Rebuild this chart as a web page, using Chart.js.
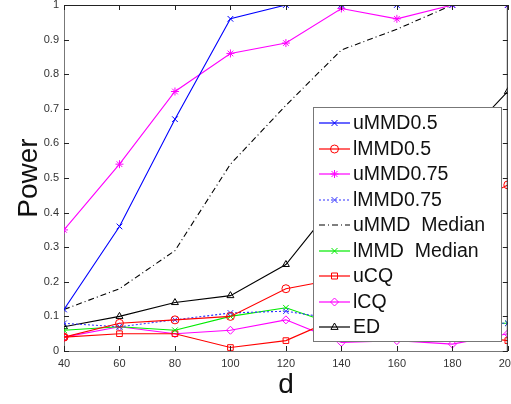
<!DOCTYPE html>
<html>
<head>
<meta charset="utf-8">
<script src="https://cdn.jsdelivr.net/npm/chart.js@4"></script>
<style>
  html, body { margin: 0; padding: 0; background: #fff; overflow: hidden; }
  #wrap { width: 511px; height: 404px; overflow: hidden; }
</style>
</head>
<body>
<div id="wrap"><canvas id="chart" width="523" height="404"></canvas></div>
<script>
// x values (d) and power per method
const dValues = [40, 60, 80, 100, 120, 140, 160, 180, 200];
const uMMD05 = [0.12, 0.36, 0.67, 0.96, 1, 1, 1, 1, 1];
const lMMD05 = [0.04, 0.08, 0.09, 0.10, 0.18, 0.21, 0.28, 0.40, 0.48];
const uMMD075 = [0.35, 0.54, 0.75, 0.86, 0.89, 0.99, 0.96, 1, 1];
const lMMD075 = [0.08, 0.07, 0.09, 0.11, 0.115, 0.09, 0.08, 0.08, 0.08];
const uMMDMedian = [0.12, 0.18, 0.29, 0.54, 0.71, 0.87, 0.93, 1, 1];
const lMMDMedian = [0.06, 0.07, 0.06, 0.10, 0.125, 0.07, 0.08, 0.08, 0.08];
const uCQ = [0.04, 0.05, 0.05, 0.01, 0.03, 0.10, 0.07, 0.05, 0.03];
const lCQ = [0.04, 0.07, 0.05, 0.06, 0.09, 0.025, 0.03, 0.02, 0.05];
const ED = [0.07, 0.10, 0.14, 0.16, 0.25, 0.45, 0.52, 0.58, 0.75];

const yTickLabels = ['0', '0.1', '0.2', '0.3', '0.4', '0.5', '0.6', '0.7', '0.8', '0.9', '1'];
const xTickLabels = ['40', '60', '80', '100', '120', '140', '160', '180', '200'];

const FONT = '"Liberation Sans", Arial, sans-serif';
const pts = arr => arr.map((v, i) => ({ x: dValues[i], y: v }));

// legend rows, drawn by the plugin below
const legendRows = [];

function series(label, values, color, style, dash) {
  legendRows.push({ label: label, color: color, style: style, dash: dash || [] });
  return {
    label: label,
    data: pts(values),
    borderColor: color,
    borderWidth: 1.1,
    borderDash: dash || [],
    pointStyle: style,
    pointRadius: style ? 4 : 0,
    pointBorderColor: color,
    pointBackgroundColor: 'rgba(0,0,0,0)',
    pointBorderWidth: 1,
    tension: 0,
    fill: false
  };
}

const datasets = [
  series('uMMD0.5', uMMD05, 'rgb(0,0,255)', 'crossRot'),
  series('lMMD0.5', lMMD05, 'rgb(255,0,0)', 'circle'),
  series('uMMD0.75', uMMD075, 'rgb(255,0,255)', 'star'),
  series('lMMD0.75', lMMD075, 'rgb(51,51,255)', 'crossRot', [2, 2]),
  series('uMMD  Median', uMMDMedian, 'rgb(0,0,0)', false, [6, 3, 1, 3]),
  series('lMMD  Median', lMMDMedian, 'rgb(0,235,0)', 'crossRot'),
  series('uCQ', uCQ, 'rgb(255,0,0)', 'rect'),
  series('lCQ', lCQ, 'rgb(255,0,255)', 'rectRot'),
  series('ED', ED, 'rgb(0,0,0)', 'triangle')
];

function marker(ctx, style, x, y, r) {
  ctx.beginPath();
  if (style === 'crossRot') {
    const d = r * 0.75;
    ctx.moveTo(x - d, y - d); ctx.lineTo(x + d, y + d);
    ctx.moveTo(x - d, y + d); ctx.lineTo(x + d, y - d);
  } else if (style === 'star') {
    const d = r * 0.75;
    ctx.moveTo(x - d, y - d); ctx.lineTo(x + d, y + d);
    ctx.moveTo(x - d, y + d); ctx.lineTo(x + d, y - d);
    ctx.moveTo(x - r, y); ctx.lineTo(x + r, y);
    ctx.moveTo(x, y - r); ctx.lineTo(x, y + r);
  } else if (style === 'circle') {
    ctx.arc(x, y, r, 0, Math.PI * 2);
  } else if (style === 'rect') {
    const d = r * 0.75;
    ctx.rect(x - d, y - d, 2 * d, 2 * d);
  } else if (style === 'rectRot') {
    ctx.moveTo(x, y - r); ctx.lineTo(x + r, y); ctx.lineTo(x, y + r); ctx.lineTo(x - r, y); ctx.closePath();
  } else if (style === 'triangle') {
    ctx.moveTo(x, y - r); ctx.lineTo(x + r * 0.9, y + r * 0.6); ctx.lineTo(x - r * 0.9, y + r * 0.6); ctx.closePath();
  }
  ctx.stroke();
}

// inward tick marks, top/right box lines and the legend box
const frame = {
  id: 'frame',
  afterDraw(chart) {
    const ctx = chart.ctx;
    const a = chart.chartArea;
    const xs = chart.scales.x, ys = chart.scales.y;
    ctx.save();
    ctx.strokeStyle = '#222';
    ctx.lineWidth = 1;
    ctx.beginPath();
    ctx.moveTo(a.left, a.top + 0.5);
    ctx.lineTo(a.right, a.top + 0.5);
    ctx.moveTo(a.right - 0.5, a.top);
    ctx.lineTo(a.right - 0.5, a.bottom);
    xs.ticks.forEach(t => {
      const px = Math.round(xs.getPixelForValue(t.value)) + 0.5;
      ctx.moveTo(px, a.bottom); ctx.lineTo(px, a.bottom - 5);
      ctx.moveTo(px, a.top); ctx.lineTo(px, a.top + 5);
    });
    ys.ticks.forEach(t => {
      const py = Math.round(ys.getPixelForValue(t.value)) + 0.5;
      ctx.moveTo(a.left, py); ctx.lineTo(a.left + 5, py);
      ctx.moveTo(a.right, py); ctx.lineTo(a.right - 5, py);
    });
    ctx.stroke();

    // legend
    const bx = 313.5, by = 107.5, bw = 188, bh = 234;
    ctx.fillStyle = '#fff';
    ctx.fillRect(bx, by, bw, bh);
    ctx.strokeStyle = '#777';
    ctx.strokeRect(bx, by, bw, bh);
    ctx.font = '19.5px ' + FONT;
    ctx.textBaseline = 'middle';
    legendRows.forEach((row, i) => {
      const y = Math.round(123 + i * 25.5);
      ctx.strokeStyle = row.color;
      ctx.lineWidth = 1.2;
      ctx.setLineDash(row.dash);
      ctx.beginPath();
      ctx.moveTo(319, y);
      ctx.lineTo(350, y);
      ctx.stroke();
      ctx.setLineDash([]);
      ctx.lineWidth = 1;
      if (row.style) marker(ctx, row.style, 334.5, y, 4);
      ctx.fillStyle = '#111';
      ctx.fillText(row.label, 353, y + 1);
    });
    ctx.restore();
  }
};

new Chart(document.getElementById('chart'), {
  type: 'line',
  data: { datasets: datasets },
  options: {
    responsive: false,
    animation: false,
    layout: { padding: { top: 4, right: 12, left: 0, bottom: 0 } },
    plugins: { legend: { display: false }, tooltip: { enabled: false } },
    scales: {
      x: {
        type: 'linear',
        min: 40, max: 200,
        afterBuildTicks: s => { s.ticks = dValues.map(v => ({ value: v })); },
        afterFit: s => { s.height = 53; },
        grid: { display: false, drawTicks: false },
        border: { color: '#777', width: 1 },
        ticks: {
          padding: 6,
          color: '#333',
          font: { family: FONT, size: 11 },
          callback: (v, i) => xTickLabels[i]
        },
        title: {
          display: true, text: 'd', color: '#111', padding: { top: 0, bottom: 2 },
          font: { family: FONT, size: 28 }
        }
      },
      y: {
        min: 0, max: 1,
        afterBuildTicks: s => { s.ticks = yTickLabels.map((t, i) => ({ value: i / 10 })); },
        afterFit: s => { s.width = 64; s.paddingTop = 0; s.paddingBottom = 0; },
        grid: { display: false, drawTicks: false },
        border: { color: '#777', width: 1 },
        ticks: {
          padding: 5,
          color: '#333',
          font: { family: FONT, size: 11 },
          callback: (v, i) => yTickLabels[i]
        },
        title: {
          display: true, text: 'Power', color: '#111', padding: { top: 12, bottom: 0 },
          font: { family: FONT, size: 28 }
        }
      }
    }
  },
  plugins: [frame]
});
</script>
</body>
</html>
